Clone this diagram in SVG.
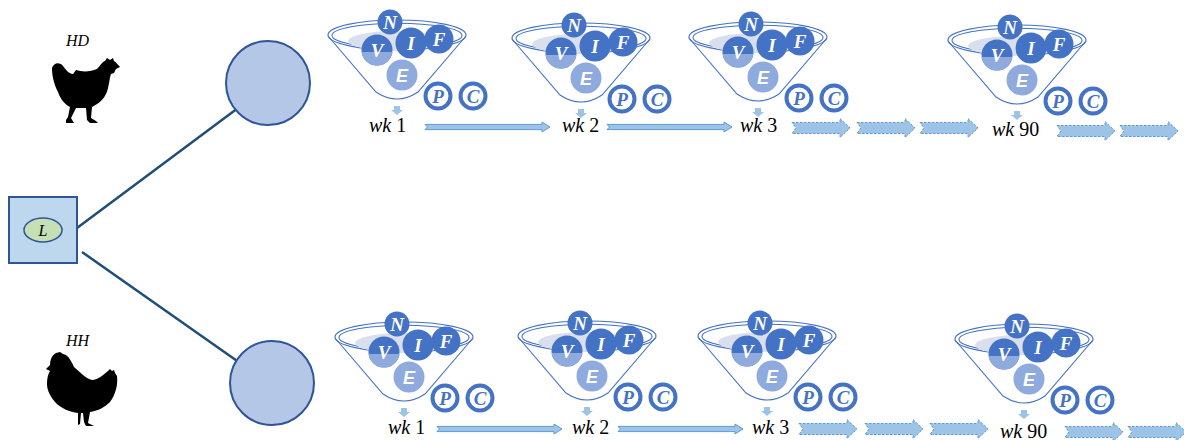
<svg xmlns="http://www.w3.org/2000/svg" xmlns:xlink="http://www.w3.org/1999/xlink" width="1184" height="440" viewBox="0 0 1184 440">
  <style>
    .hub { fill: #b4c7e7; stroke: #2f5597; stroke-width: 2; }
    .link { stroke: #1f4e79; stroke-width: 2.5; fill: none; }
    .rim { fill: none; stroke: #4472c4; stroke-width: 1.1; }
    .cone { fill: none; stroke: #4472c4; stroke-width: 1.1; }
    .dark { fill: #4472c4; }
    .light { fill: #8faadc; }
    .ltr { fill: #ffffff; font-family: "Liberation Serif", serif; font-style: italic; font-weight: bold; font-size: 19px; text-anchor: middle; }
    .ltrs { fill: #ffffff; font-family: "Liberation Sans", sans-serif; font-style: italic; font-weight: bold; font-size: 18px; text-anchor: middle; }
    .ring { fill: #ffffff; stroke: #4472c4; stroke-width: 4; }
    .rl { fill: #4472c4; font-family: "Liberation Serif", serif; font-style: italic; font-weight: bold; font-size: 19px; text-anchor: middle; }
    .wk { font-family: "Liberation Serif", serif; font-size: 20px; fill: #000; }
    .solid { fill: #9dc3e6; stroke: #5b9bd5; stroke-width: 1; }
    .dash { fill: #9dc3e6; stroke: #5b9bd5; stroke-width: 1; stroke-dasharray: 2.5 1.5; }
    .tag { font-family: "Liberation Serif", serif; font-style: italic; font-size: 16px; fill: #000; }
  </style>
  <defs>
    <clipPath id="lowerHalf">
      <rect x="-40" y="30" width="60" height="30"/>
    </clipPath>
    <!-- funnel of letter balls, origin at the centre of the N ball -->
    <g id="funnel">
      <ellipse class="rim" cx="7" cy="13" rx="69" ry="15"/>
      <ellipse class="rim" cx="7" cy="13.5" rx="65" ry="12.3"/>
      <ellipse cx="5" cy="19" rx="47" ry="10" fill="#d9dfec"/>
      <path class="cone" d="M-62,14 L-14,70 Q7,84 28,70 L76,14"/>
      <path d="M4,84 H10 V88 H13 L7,93 L1,88 H4 Z" fill="#9dc3e6"/>
      <circle class="dark" cx="-13" cy="28" r="15.5"/>
      <circle class="light" cx="-13" cy="28" r="15.5" clip-path="url(#lowerHalf)"/>
      <circle class="dark" cx="21" cy="21" r="15.5"/>
      <circle class="dark" cx="49" cy="17" r="14.5"/>
      <circle class="dark" cx="0" cy="0" r="12.5"/>
      <circle class="light" cx="12" cy="53" r="15.5"/>
      <text class="ltr" x="0" y="6.5">N</text>
      <text class="ltr" x="-13" y="34.5">V</text>
      <text class="ltr" x="21" y="27.5">I</text>
      <text class="ltr" x="49" y="23.5">F</text>
      <text class="ltrs" x="12" y="59.5">E</text>
      <circle class="ring" cx="48" cy="74" r="12.5"/>
      <circle class="ring" cx="83" cy="74" r="12.5"/>
      <text class="rl" x="48" y="80.5">P</text>
      <text class="rl" x="83" y="80.5">C</text>
    </g>
    <path id="longArrow" class="solid" d="M0,-2.6 H117 V-5 L125,0 L117,5 V2.6 H0 L2.5,0 Z"/>
    <path id="shortArrow" class="dash" d="M0,-5.5 H48 V-9.5 L58,0 L48,9.5 V5.5 H0 L4,0 Z"/>
  </defs>

  <!-- connectors from the line box to the two flocks -->
  <g id="connectors">
    <line class="link" x1="77" y1="228" x2="238" y2="108"/>
    <line class="link" x1="82" y1="252" x2="240" y2="363"/>
  </g>

  <g id="line-box">
    <rect x="9" y="197" width="68" height="66" fill="#bdd7ee" stroke="#2f5597" stroke-width="2"/>
    <ellipse cx="43" cy="230" rx="19" ry="12" fill="#c5e0b4" stroke="#2f5597" stroke-width="1.5"/>
    <text class="tag" x="43" y="236" text-anchor="middle" font-size="17">L</text>
  </g>

  <g id="hub-hd">
    <circle class="hub" cx="268" cy="83" r="42"/>
  </g>
  <g id="hub-hh">
    <circle class="hub" cx="272" cy="383" r="42"/>
  </g>

  <g id="bird-hd">
    <text class="tag" x="66" y="46">HD</text>
    <path fill="#000" d="M52,68 C54,62 60,62 63,66 C66,70 69,74 73,74 L76,70 C82,72 90,72 97,69 C100,66 102,62 105,61 L107,58 L110,60 L113,58 L114,61 C116,62 118,65 120,67 L116,69 L114,73 L111,74 C109,80 109,88 106,94 C103,100 98,104 92,107 L91,118 L96,121 L98,123 L90,123 L87,120 L86,108 L76,108 L71,118 L74,123 L66,123 L66,120 L68,117 L70,107 C64,104 60,98 58,92 C55,86 52,78 52,68 Z"/>
  </g>
  <g id="bird-hh">
    <text class="tag" x="66" y="346">HH</text>
    <path fill="#000" d="M56,353 L60,352 L63,354 L66,355 C70,358 72,363 74,367 C80,372 86,379 92,380 C98,380 104,374 108,371 L110,369 L112,371 L114,370 L115,373 L117,376 C118,384 116,394 110,402 C104,408 97,411 90,412 L88,423 L94,426 L86,426 L84,422 L83,413 L81,413 L80,424 L78,425 L78,413 C70,412 60,408 55,402 C50,396 47,390 47,384 C47,378 48,374 50,371 L46,369 L50,365 C50,360 52,355 56,353 Z"/>
  </g>

  <!-- HD timeline -->
  <g id="hd-wk1"><use xlink:href="#funnel" transform="translate(390,22)"/><text class="wk" x="369" y="132"><tspan font-style="italic">wk</tspan> 1</text></g>
  <g id="hd-wk2"><use xlink:href="#funnel" transform="translate(574,25)"/><text class="wk" x="562" y="132"><tspan font-style="italic">wk</tspan> 2</text></g>
  <g id="hd-wk3"><use xlink:href="#funnel" transform="translate(751,24)"/><text class="wk" x="740" y="132"><tspan font-style="italic">wk</tspan> 3</text></g>
  <g id="hd-wk90"><use xlink:href="#funnel" transform="translate(1010,27)"/><text class="wk" x="992" y="136"><tspan font-style="italic">wk</tspan> 90</text></g>

  <!-- HH timeline -->
  <g id="hh-wk1"><use xlink:href="#funnel" transform="translate(397,324)"/><text class="wk" x="388" y="434"><tspan font-style="italic">wk</tspan> 1</text></g>
  <g id="hh-wk2"><use xlink:href="#funnel" transform="translate(580,323)"/><text class="wk" x="572" y="434"><tspan font-style="italic">wk</tspan> 2</text></g>
  <g id="hh-wk3"><use xlink:href="#funnel" transform="translate(760,323)"/><text class="wk" x="752" y="434"><tspan font-style="italic">wk</tspan> 3</text></g>
  <g id="hh-wk90"><use xlink:href="#funnel" transform="translate(1017,326)"/><text class="wk" x="1000" y="438"><tspan font-style="italic">wk</tspan> 90</text></g>

  <g id="timeline-arrows">
    <use xlink:href="#longArrow" transform="translate(425,127)"/>
    <use xlink:href="#longArrow" transform="translate(607,127)"/>
    <use xlink:href="#shortArrow" transform="translate(792,128)"/>
    <use xlink:href="#shortArrow" transform="translate(857,128)"/>
    <use xlink:href="#shortArrow" transform="translate(920,128)"/>
    <use xlink:href="#shortArrow" transform="translate(1057,131)"/>
    <use xlink:href="#shortArrow" transform="translate(1120,131)"/>

    <use xlink:href="#longArrow" transform="translate(437,429)"/>
    <use xlink:href="#longArrow" transform="translate(618,429)"/>
    <use xlink:href="#shortArrow" transform="translate(799,429)"/>
    <use xlink:href="#shortArrow" transform="translate(865,429)"/>
    <use xlink:href="#shortArrow" transform="translate(930,429)"/>
    <use xlink:href="#shortArrow" transform="translate(1065,432)"/>
    <use xlink:href="#shortArrow" transform="translate(1128,432)"/>
  </g>
</svg>
